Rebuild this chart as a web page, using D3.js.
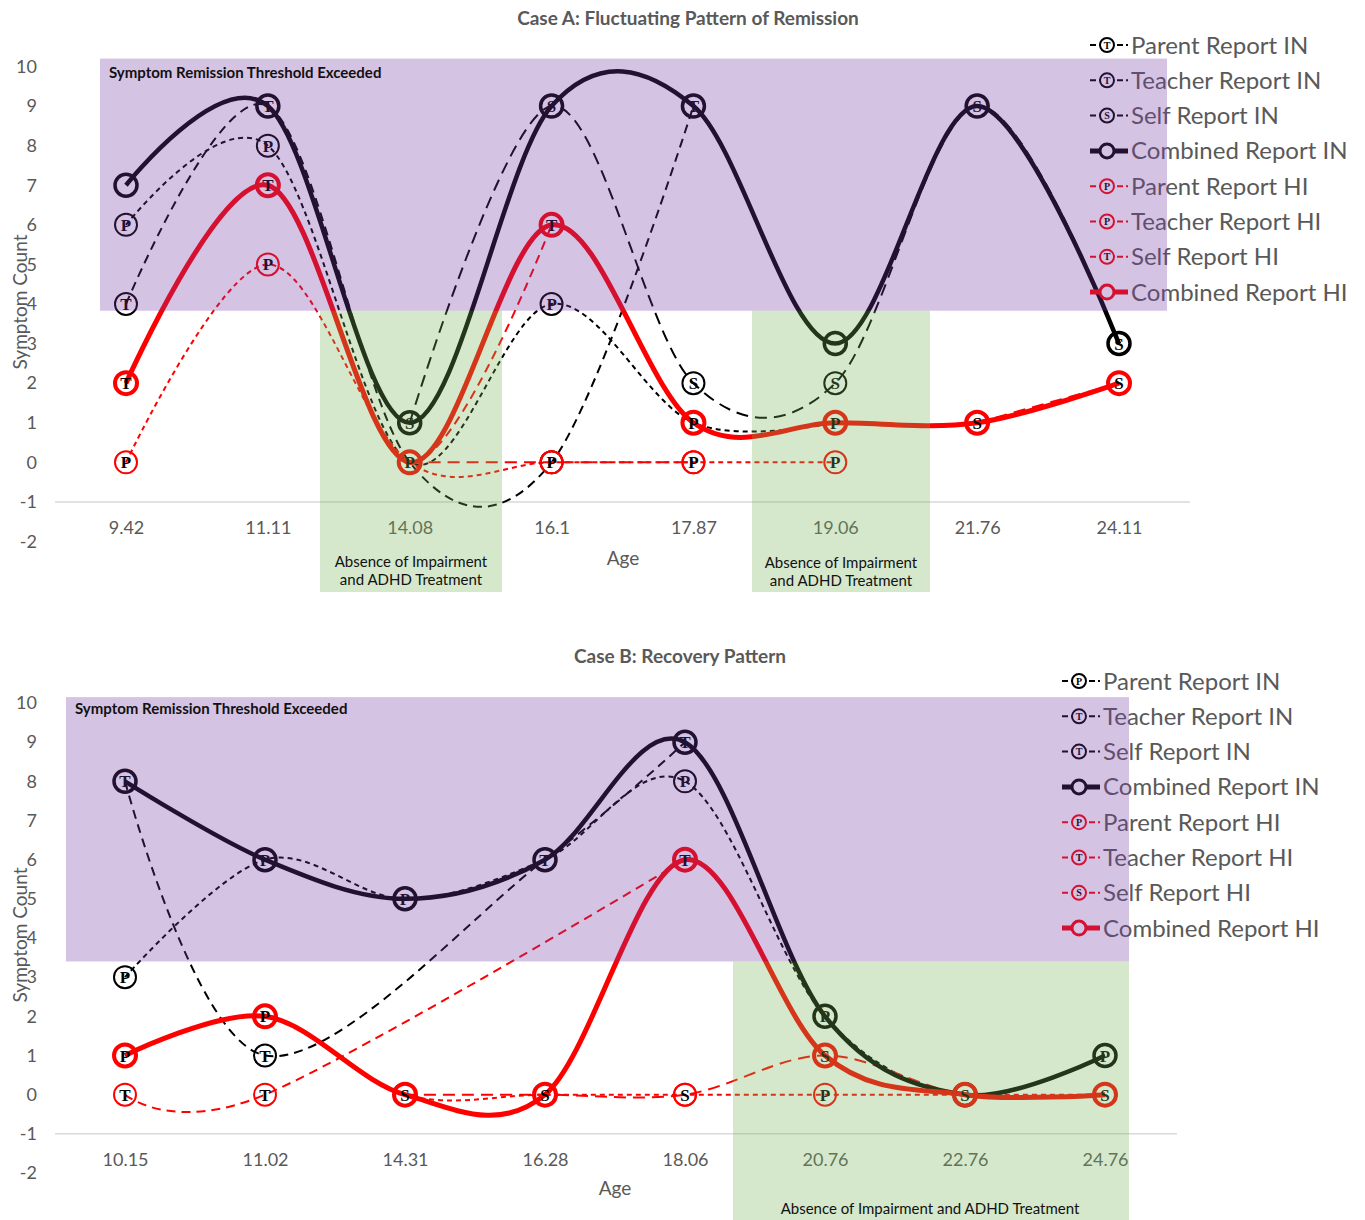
<!DOCTYPE html>
<html><head><meta charset="utf-8">
<script src="https://cdn.jsdelivr.net/npm/d3@7"></script>
<style>body{margin:0;background:#fff}svg{display:block}</style>
</head><body><svg id="c" width="1365" height="1220"></svg>
<script>
// ---------- DATA ----------
const catsA = ["9.42","11.11","14.08","16.1","17.87","19.06","21.76","24.11"];
const parentIN_A   = [6, 8, 0, 4, 1, 1, null, null];
const teacherIN_A  = [4, 9, 0, 0, 9, null, null, null];
const selfIN_A     = [null, null, 1, 9, 2, 2, 9, 3];
const combinedIN_A = [7, 9, 1, 9, 9, 3, 9, 3];
const parentHI_A   = [0, 5, 0, 0, 0, 0, null, null];
const teacherHI_A  = [2, 7, 0, 6, null, null, null, null];
const selfHI_A     = [null, null, 0, 0, 0, null, 1, 2];
const combinedHI_A = [2, 7, 0, 6, 1, 1, 1, 2];

const catsB = ["10.15","11.02","14.31","16.28","18.06","20.76","22.76","24.76"];
const parentIN_B   = [3, 6, 5, 6, 8, 2, 0, 1];
const teacherIN_B  = [8, 1, null, 6, 9, null, null, null];
const selfIN_B     = [null, null, null, null, null, null, null, null];
const combinedIN_B = [8, 6, 5, 6, 9, 2, 0, 1];
const parentHI_B   = [1, 2, 0, 0, 0, 0, 0, 0];
const teacherHI_B  = [0, 0, null, null, 6, null, null, null];
const selfHI_B     = [null, null, 0, 0, 0, 1, 0, 0];
const combinedHI_B = [1, 2, 0, 0, 6, 1, 0, 0];

const yTicks = [10, 9, 8, 7, 6, 5, 4, 3, 2, 1, 0, -1, -2];
const legendNames = ["Parent Report IN","Teacher Report IN","Self Report IN","Combined Report IN",
                     "Parent Report HI","Teacher Report HI","Self Report HI","Combined Report HI"];
const legendLettersA = ["T","T","S","","P","P","T",""];
const legendLettersB = ["P","T","T","","P","T","S",""];
const titleA = "Case A: Fluctuating Pattern of Remission";
const titleB = "Case B: Recovery Pattern";
const thresholdText = "Symptom Remission Threshold Exceeded";
const absenceText = ["Absence of Impairment", "and ADHD Treatment"];
const absenceTextB = "Absence of Impairment and ADHD Treatment";

// ---------- STYLE ----------
const SANS = "Lato, 'Open Sans', sans-serif";
const SERIF = "'Liberation Serif', 'DejaVu Serif', serif";
const GRAY = "#595959";
const kinds = {
  parent:   {dash: "5,4",  width: 2},
  teacher:  {dash: "9,6",  width: 2},
  self:     {dash: "12,7", width: 2},
  combined: {dash: null,   width: 4.5}
};
const svg = d3.select("#c");

function seriesList(p, t, s, c, ph, th, sh, ch, connectTeacher) {
  return [
    {vals: p,  kind: "parent",   col: "#000", letter: "P"},
    {vals: t,  kind: "teacher",  col: "#000", letter: "T", connect: connectTeacher},
    {vals: s,  kind: "self",     col: "#000", letter: "S"},
    {vals: ph, kind: "parent",   col: "#ff0000", letter: "P"},
    {vals: th, kind: "teacher",  col: "#ff0000", letter: "T", connect: connectTeacher},
    {vals: sh, kind: "self",     col: "#ff0000", letter: "S"},
    {vals: c,  kind: "combined", col: "#000", letter: ""},
    {vals: ch, kind: "combined", col: "#ff0000", letter: "", hi: true}
  ];
}

function drawCase(cfg) {
  const g = svg.append("g");
  const x = d3.scalePoint().domain(cfg.cats).range(cfg.xRange);
  const y = d3.scaleLinear().domain([-2, 10]).range(cfg.yRange);

  g.append("text").attr("x", cfg.titleX).attr("y", cfg.titleY).attr("text-anchor", "middle")
    .attr("font-family", SANS).attr("font-weight", "bold").attr("font-size", 19).attr("fill", GRAY)
    .text(cfg.title);

  g.append("line").attr("x1", cfg.axisX[0]).attr("x2", cfg.axisX[1])
    .attr("y1", y(-1)).attr("y2", y(-1)).attr("stroke", "#d9d9d9").attr("stroke-width", 1.5);

  const ya = g.append("g").attr("transform", `translate(37,0)`)
    .call(d3.axisLeft(y).tickValues(yTicks).tickSize(0).tickPadding(0).tickFormat(d => String(d)));
  ya.select(".domain").remove();
  ya.selectAll("text").attr("font-family", SANS).attr("font-size", 18).attr("fill", GRAY);

  const xa = g.append("g").attr("transform", `translate(0,${y(-1)})`)
    .call(d3.axisBottom(x).tickSize(0).tickPadding(19));
  xa.select(".domain").remove();
  xa.selectAll("text").attr("font-family", SANS).attr("font-size", 18).attr("fill", GRAY);

  g.append("text").attr("x", cfg.ageX).attr("y", cfg.ageY).attr("text-anchor", "middle")
    .attr("font-family", SANS).attr("font-size", 19).attr("fill", GRAY).text("Age");
  g.append("text").attr("transform", `translate(27,${cfg.symY}) rotate(-90)`).attr("text-anchor", "middle")
    .attr("font-family", SANS).attr("font-size", 19).attr("fill", GRAY).text("Symptom Count");

  const series = cfg.series;
  const pts = s => cfg.cats.map((c, i) => ({x: x(c), v: s.vals[i]}));
  series.forEach(s => {
    const k = kinds[s.kind];
    let data = pts(s);
    if (s.connect) data = data.filter(d => d.v != null);
    const line = d3.line().defined(d => d.v != null).x(d => d.x).y(d => y(d.v))
      .curve(d3.curveCardinal.tension(0));
    g.append("path").attr("d", line(data)).attr("fill", "none")
      .attr("stroke", s.col).attr("stroke-width", s.hi ? 5 : k.width)
      .attr("stroke-dasharray", k.dash).attr("stroke-linecap", "butt");
  });

  // markers: one letter per position, by priority order
  const letterAt = new Map();
  const order = cfg.letterOrder;
  series.forEach(s => {
    pts(s).filter(d => d.v != null).forEach(d => {
      g.append("circle").attr("cx", d.x).attr("cy", y(d.v)).attr("r", 11)
        .attr("fill", "none").attr("stroke", s.col)
        .attr("stroke-width", s.kind === "combined" ? (s.hi ? 4 : 3.5) : 2);
      if (s.letter) {
        const key = d.x + "_" + d.v;
        const rank = order.indexOf(s.letter);
        const prev = letterAt.get(key);
        if (!prev || rank >= prev.rank) letterAt.set(key, {x: d.x, v: d.v, L: s.letter, rank});
      }
    });
  });
  letterAt.forEach(o => {
    g.append("text").attr("x", o.x).attr("y", y(o.v) + 6).attr("text-anchor", "middle")
      .attr("font-family", SERIF).attr("font-weight", "bold").attr("font-size", 17)
      .attr("fill", "#000").text(o.L);
  });

  const legendKinds = ["parent","teacher","self","combined","parent","teacher","self","combined"];
  legendNames.forEach((nm, i) => {
    const cy = cfg.legY0 + i * cfg.legDy;
    const col = i < 4 ? "#000" : "#ff0000";
    const k = kinds[legendKinds[i]];
    const x0 = cfg.legX;
    g.append("line").attr("x1", x0).attr("x2", x0 + 38).attr("y1", cy).attr("y2", cy)
      .attr("stroke", col).attr("stroke-width", legendKinds[i] === "combined" ? 5 : 2)
      .attr("stroke-dasharray", k.dash ? "6,3" : null);
    g.append("circle").attr("cx", x0 + 17).attr("cy", cy).attr("r", 7).attr("fill", "#fff")
      .attr("stroke", col).attr("stroke-width", legendKinds[i] === "combined" ? 3 : 2);
    const L = cfg.legLetters[i];
    if (L) g.append("text").attr("x", x0 + 17).attr("y", cy + 3.5).attr("text-anchor", "middle")
      .attr("font-family", SERIF).attr("font-weight", "bold").attr("font-size", 10).attr("fill", "#000").text(L);
    g.append("text").attr("x", x0 + 41).attr("y", cy + 8.5).attr("font-family", SANS)
      .attr("font-size", 24).attr("fill", GRAY).text(nm);
  });

  g.append("rect").attr("x", cfg.purple[0]).attr("y", y(cfg.purple[1]))
    .attr("width", cfg.purple[2] - cfg.purple[0]).attr("height", y(cfg.purple[3]) - y(cfg.purple[1]))
    .attr("fill", "rgb(115,55,165)").attr("opacity", 0.3);
  cfg.greens.forEach(gr => {
    g.append("rect").attr("x", gr[0]).attr("y", y(gr[1]))
      .attr("width", gr[2] - gr[0]).attr("height", gr[3] - y(gr[1]))
      .attr("fill", "rgb(115,178,85)").attr("opacity", 0.3);
  });

  g.append("text").attr("x", cfg.purple[0] + 9).attr("y", y(10) + 11).attr("font-family", SANS)
    .attr("font-weight", "bold").attr("font-size", 15).attr("fill", "#111").text(thresholdText);
  cfg.absence.forEach(a => {
    a.lines.forEach((t, j) => {
      g.append("text").attr("x", a.x).attr("y", a.y + j * 18).attr("text-anchor", "middle")
        .attr("font-family", SANS).attr("font-size", 15).attr("fill", "#111").text(t);
    });
  });
}

drawCase({
  cats: catsA, xRange: [126, 1119], yRange: [541.5, 66.5],
  title: titleA, titleX: 688, titleY: 25,
  axisX: [55, 1190], ageX: 623, ageY: 565, symY: 302,
  series: seriesList(parentIN_A, teacherIN_A, selfIN_A, combinedIN_A,
                     parentHI_A, teacherHI_A, selfHI_A, combinedHI_A, false),
  letterOrder: ["T", "S", "P"],
  legX: 1090, legY0: 45, legDy: 35.3, legLetters: legendLettersA,
  purple: [100, 10.2, 1167, 3.83],
  greens: [[320, 3.83, 502, 592], [752, 3.83, 930, 592]],
  absence: [{x: 411, y: 567, lines: absenceText}, {x: 841, y: 568, lines: absenceText}]
});

drawCase({
  cats: catsB, xRange: [125, 1105], yRange: [1173, 703],
  title: titleB, titleX: 680, titleY: 663,
  axisX: [55, 1177], ageX: 615, ageY: 1195, symY: 935,
  series: seriesList(parentIN_B, teacherIN_B, selfIN_B, combinedIN_B,
                     parentHI_B, teacherHI_B, selfHI_B, combinedHI_B, true),
  letterOrder: ["P", "T", "S"],
  legX: 1062, legY0: 681, legDy: 35.3, legLetters: legendLettersB,
  purple: [66, 10.15, 1129, 3.4],
  greens: [[733, 3.4, 1129, 1220]],
  absence: [{x: 930, y: 1214, lines: [absenceTextB]}]
});
</script>
</body></html>
